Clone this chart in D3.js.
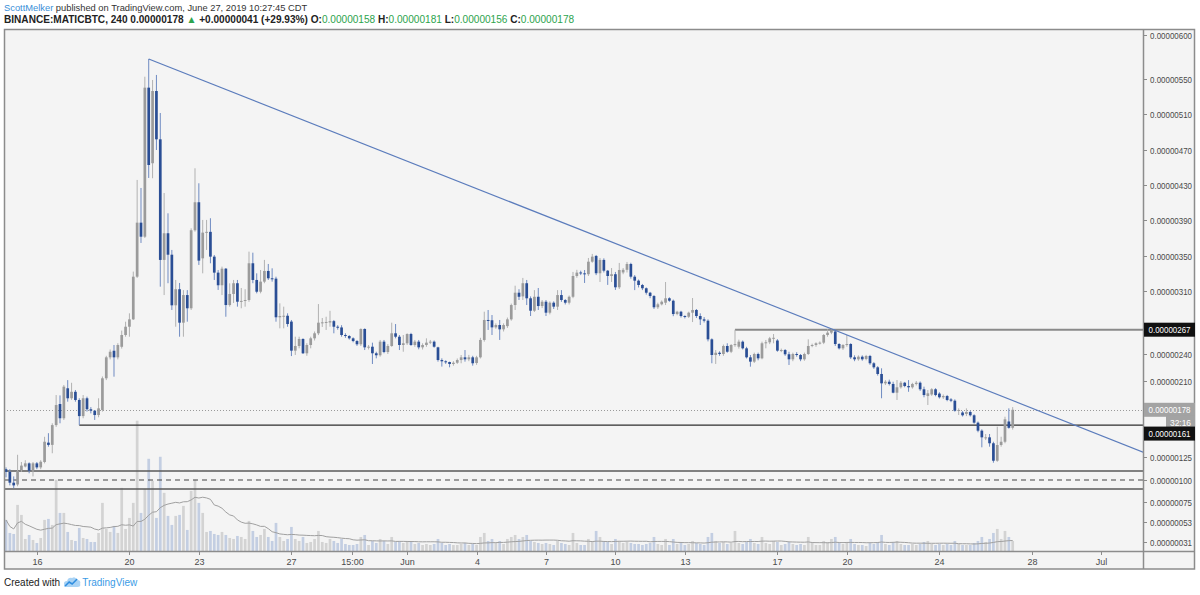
<!DOCTYPE html>
<html><head><meta charset="utf-8">
<script src="https://cdn.jsdelivr.net/npm/d3@7/dist/d3.min.js"></script>
<style>body{margin:0;background:#fff;}svg{display:block;}</style>
</head><body>
<svg id="c" width="1200" height="595"></svg>
<script>
// ---- data (price in satoshi = 1e-8 BTC), 4h candles ----
const opens = [112,109,97,95,111,115,118.5,111,118.5,114,
120,141.5,139,161,184.4,168.6,201.9,190.8,198,188.9,
171,190.8,178.6,177,172.2,177.8,213,236.3,243.6,236.3,
248,261.1,270.3,278.5,326.2,387.4,371.5,540.3,454.7,536.5,
481.8,345.2,375.4,351.1,294.1,312,274.8,305.5,290.8,378.8,
410.5,347,376.1,377,348.9,330.8,316.5,335.3,294.4,306.7,
318.8,298.1,299,300,341.4,322.5,309.2,320.6,332.7,324.4,
324,280.8,282.2,282.5,276,243.7,248.9,256.7,240.8,250,
257.4,263,274.8,275.2,275,276.5,270.3,269.5,261.1,260,
257.4,254.4,250.8,267.8,247.4,248.1,240.8,238.6,253.7,242.2,
248.9,263,259.2,250,251.9,262.2,250,253.7,247.4,250,
252.6,253.7,247.4,233.3,231.9,231.1,228.9,230.3,233.3,236.3,
234.1,236.3,230,236.3,255.6,277.8,277.5,269.6,272.2,267.4,
271,278.5,294.4,308.1,304,318.8,301.9,288.1,303.6,293.3,
298.1,285.9,297,292.6,305.5,300,297,303.6,327,331,
330,329,343.2,349.7,330.1,345.2,333,327,329,314.2,
331,334,340.6,326.2,321.7,316.8,313.1,308.1,304.4,291.9,
295.2,297,301.9,299.2,284.4,287,282.2,281.4,285.9,288.9,
282.2,278.5,277,256.3,238.9,241.4,240,248.9,242.5,250,
248.1,253.7,246.3,236.3,231.5,240,235.2,251.9,253,257.4,
255,243.7,244.4,239.7,234.1,240,238.9,234.1,240,248.9,
250,251.9,252.6,261.1,263.7,265,251.1,246.3,250,251.1,
236.3,234.1,237,234.5,237.8,229.7,225.2,217.8,207.4,209.2,
206.7,197,203,208.1,204.4,203,206.7,208.1,200.8,193.3,
195,200.8,196,191.9,193.3,189.5,188.1,177,175,173.4,
175.6,171.9,163.7,154.8,146.3,147.4,140.8,121.4,138.9,142.5,
165,158];
const highs = [114,112,104,128,120,122,119.6,120,120,122,
148,152,163,194.4,194,205.6,211,208,200,190.8,
194.4,192.6,181,177.8,190.8,215,238,245,250,252,
266,275.9,285.2,332,435.8,426.7,552.7,572.8,549,554.7,
511.6,421,398,356.5,322.5,319.1,311,311,381,449,
432,390.5,390.5,392.4,350.8,333.8,337.6,336,318.7,322.5,
322.5,313.4,312,354.6,353.4,330,333.8,345.2,340.6,335.7,
326.2,296.3,292.6,285.2,277.8,259.2,259.2,257.4,252,259.2,
265,295.5,280,281.4,288,277.8,272,272,263,261,
258.5,255.5,268.5,268.5,250,252.6,242.5,255.6,255.6,251,
274.8,273.3,261.1,261.1,263,263.5,255.6,255.6,251.9,257.4,
255.6,255,248.1,235.2,233,231.5,232,235,238.9,244.4,
239,238,238,258,287,288.9,283.3,274,277.8,274,
280.5,296,316,312,324.8,322.5,304,311,313.4,300,
300,298.5,298.5,311,311,301,305,331.6,334,333,
333.8,347.4,352,350.8,347.4,347,333.8,336,331.6,341.8,
336,342.9,342,328,323,318,314,309,305.5,297,
299.5,320.2,303,300.5,288,288,283,287,302.2,290,
285.2,281,278.5,257.4,244.4,243,250.5,251.9,251,267,
256,255,248,238.9,241.5,241.5,253.7,255.6,259,262.2,
256.5,246,245.5,242.5,241.5,242,240,241.5,256.3,251.5,
253,254,262.2,267.4,267.4,267.4,252,251,261.1,252,
238.5,238.5,238.5,239,239,231,226.5,224.1,211,211.5,
209.2,211.1,210,209,211,208,210,209.5,203.7,200,
202,202,197.5,195,194.5,191,189.6,179.6,176.5,179.6,
177,173,165,156.3,151.1,151.1,142.5,159.2,148.1,170.3,
179.6,181];
const lows = [103,94,91,93,109,114,107.5,104,112,112,
118.5,137,129.7,159,163,166.7,187,189,187,161,
168.6,176,174,166.7,169.7,176,211,234,214.8,234,
246,259.2,259.2,277.8,324.8,364.4,370,438,437.7,469.7,
314.9,305.5,318.8,288.9,270.3,259.2,259.2,275.9,288.9,377.2,
339.5,330,356.5,341.4,322.5,311.2,305.5,281.4,292.6,296.7,
292.6,290.8,292.6,298,318.8,307.4,307.4,318.8,322.5,320.6,
275.9,268.5,268.5,270.3,237.7,238.9,246.3,240,238,246.3,
255,261,270,266.7,270.3,263,267,259.2,258,256,
253,249,248.9,244.4,245,228.9,235.2,237,240.8,240,
248,257.4,244.4,242.5,250,249,248,245.2,245,248,
251,247,231.5,226,229,225.2,227,229,229.7,231.5,
232,227,228,235,253.7,266.7,261.1,268,255.6,265,
269,277,288.9,300,300,294.4,282.2,286.7,288.9,291,
282.2,284,290,288.9,298,295,295,302,325,328,
319.1,327,342,328,320.2,331,316.9,320.2,311.2,312.3,
329,331,324,311,314,311,306,302,290,290,
294,294.4,298,282,283,280.5,279.5,280,275.5,280,
272.2,275,254,229.7,228.9,238,238,241.4,241,248,
246,245,235,225.9,230,233,234.1,246.3,251,251.9,
242.5,242,238,227.8,232,237,232,232.5,238.9,247.5,
248,250.5,251,259.2,262,249,245,244.5,248.1,234.5,
232,232.5,232.5,233,228,223.5,216,190.8,205.5,205,
196.3,188.9,201.5,203,198,201.5,205,199,191.9,183.3,
193.5,193,190.5,190,187.5,186.5,175.9,172.2,170.5,171,
170.5,162.5,153,136.3,144.4,137,119.2,120.2,137,140.8,
157,156];
const closes = [109,97,94,110,116,118.5,110.3,118.5,114,120.3,
142.5,139,161,183.3,168.6,203.7,190.8,198,188.9,171,
190.8,178.6,177,172.2,179.6,213,236.3,242.5,236.3,250,
261.1,270.3,278.5,326.2,387.4,371.5,540.3,452.7,536.5,481.8,
345.2,375.4,351.1,294.1,312,274.8,305.5,290.8,378.8,410.5,
344.4,376.1,377,348.9,330.8,316.5,335.3,294.4,306.7,318.8,
298.1,299,300,341.4,322.5,309.2,320.6,332.7,324.4,324,
280.8,282.2,282.5,273.3,243.7,248.9,256.7,240.8,250,257.4,
263,274.8,275.2,275.6,276.5,270.3,269.5,261.1,260,257.4,
254.4,250.8,267.8,247.4,248.1,240.8,238.6,253.7,242.2,248.9,
263,259.2,250,251.9,262.2,250,253.7,247.4,250,252.6,
253.7,248.1,233.3,231.9,231.1,228.9,230.3,233.3,236.3,234.1,
236.3,229.7,236.3,255.6,277.8,277,269.6,272.2,267.4,272.2,
278.5,294.4,308.1,303.6,318.8,301.9,288.1,303.6,293.3,298.1,
285.9,297,292.6,305.5,300,297,303.6,327,330.8,330,
329,343.2,348.9,330.1,345.2,333,327,329,314.2,333.8,
334,340.6,326.2,321.7,316.8,313.1,308.1,304.4,291.9,295.2,
298.1,301.9,299.2,284.4,287,282.2,281.4,285.9,288.9,282.2,
278.5,277,256.3,238.9,241.4,240,248.9,242.5,250,251,
253.7,246.3,236.3,231.5,240,235.2,251.9,253,257.4,258,
243.7,244.4,239.7,234.1,240,238.9,234.1,240,248.9,250,
251.9,252.6,261.1,263.7,266.7,251.1,246.3,250,251.1,236.3,
234.1,237,234.1,237.8,229.7,225.2,217.8,207.4,209.2,206.7,
197,203,208.1,204.4,203,206.7,208.1,200.8,194.4,196.3,
200.8,194.4,191.9,193.3,188.9,188.1,177,177.8,171.9,175.6,
171.9,163.7,154.8,147.4,147.4,140.8,121.4,138.9,142.5,167.4,
158,178];
const volumes = [31,18,17,46,36,12,16,11,8,13,
31,32,26,71,38,38,19,11,10,23,
13,12,9,9,18,48,22,19,25,18,
63,22,33,48,130,38,62,92,70,33,
94,58,35,26,35,36,45,21,60,71,
48,38,19,20,17,16,19,16,13,12,
15,14,12,30,20,14,16,22,14,10,
28,14,10,12,24,12,10,14,8,9,
12,20,9,8,12,10,8,12,7,6,
6,7,14,16,6,10,8,12,10,7,
14,9,10,8,10,9,7,8,6,7,
6,7,12,8,6,7,6,6,7,8,
6,7,6,14,18,10,12,8,10,7,
12,14,16,12,14,16,10,9,8,7,
8,7,6,10,8,7,6,18,8,6,
6,12,10,20,14,10,9,7,12,10,
8,9,8,7,7,6,7,8,14,7,
6,12,6,12,7,8,6,7,10,8,
7,6,14,18,10,8,9,7,8,20,
8,7,9,12,8,7,14,8,7,10,
9,6,7,9,7,6,7,6,14,8,
6,6,10,9,12,14,8,7,9,12,
7,6,6,5,8,7,9,16,7,6,
9,10,7,6,6,7,6,7,9,10,
7,6,7,6,7,6,10,7,6,6,
6,8,10,14,9,12,18,22,12,20,
14,10];
const priceTicks = [600,550,510,470,430,390,350,310,240,210,125,100,75,53,31];
const timeTickDates = ["2019-05-16T00:00Z","2019-05-20T00:00Z","2019-05-23T00:00Z","2019-05-27T00:00Z","2019-05-29T15:00Z","2019-06-01T00:00Z","2019-06-04T00:00Z","2019-06-07T00:00Z","2019-06-10T00:00Z","2019-06-13T00:00Z","2019-06-17T00:00Z","2019-06-20T00:00Z","2019-06-24T00:00Z","2019-06-28T00:00Z","2019-07-01T00:00Z"];
const timeTickLabels = ["16","20","23","27","15:00","Jun","4","7","10","13","17","20","24","28","Jul"];
const firstCandle = "2019-05-14T16:00Z";
const levelLines = [110, 90];
const dashedLevel = 100;
const support = {from: 19, value: 161};
const resistance = {from: 189, value: 267};
const lastPrice = 178;
const trendStart = {i: 37, v: 572.8};
const trendEnd = {i: 294.8, v: 131};
const countdown = "32:16";

// ---- layout ----
const L = 4, R = 1143, T = 30, B = 551, AX = 1195, TB = 569;
const svg = d3.select("#c");
const font = "'Liberation Sans', Arial, sans-serif";
svg.append("rect").attr("width",1200).attr("height",595).attr("fill","#fff");
svg.append("rect").attr("x",L).attr("y",T).attr("width",AX-L).attr("height",TB-T).attr("fill","#f4f4f4");

const n = closes.length;
const x = d3.scaleLinear().domain([0, n-1]).range([6, 1012.7]);
const y = d3.scaleLinear().domain([21.1, 310, 605.6]).range([B, 291, T]);
const t0 = new Date(firstCandle);
const xt = d3.scaleUtc().domain([t0, new Date(+t0 + (n-1)*4*3600e3)]).range(x.range());
const yv = d3.scaleLinear().domain([0, d3.max(volumes)]).range([B, B-130.3]);

svg.append("clipPath").attr("id","pc").append("rect").attr("x",L).attr("y",T).attr("width",R-L).attr("height",B-T);
const g = svg.append("g").attr("clip-path","url(#pc)");

const idx = d3.range(n);
const up = i => closes[i] >= opens[i];
const bw = 2.7;

// volume
g.append("g").selectAll("rect").data(idx).join("rect")
  .attr("x", i => x(i)-bw/2).attr("width", bw)
  .attr("y", i => yv(volumes[i])).attr("height", i => B - yv(volumes[i]))
  .attr("fill", i => up(i) ? "#d3d3d3" : "#c3cee2");
const ma = idx.map(i => d3.mean(volumes.slice(Math.max(0,i-19), i+1)));
g.append("path").datum(idx)
  .attr("d", d3.line().x(i => x(i)).y(i => yv(ma[i])))
  .attr("fill","none").attr("stroke","#a0a0a0").attr("stroke-width",1);

// level lines
levelLines.forEach(v => g.append("line").attr("x1",L).attr("x2",R).attr("y1",y(v)).attr("y2",y(v))
  .attr("stroke","#5a5a5a").attr("stroke-width",1.4));
g.append("line").attr("x1",L).attr("x2",R).attr("y1",y(dashedLevel)).attr("y2",y(dashedLevel))
  .attr("stroke","#444").attr("stroke-width",1.2).attr("stroke-dasharray","5,4");
g.append("line").attr("x1",L).attr("x2",R).attr("y1",Math.round(y(lastPrice))+0.5).attr("y2",Math.round(y(lastPrice))+0.5)
  .attr("stroke","#9a9a9a").attr("stroke-width",1).attr("stroke-dasharray","1,2");
g.append("line").attr("x1",x(support.from)).attr("x2",R).attr("y1",y(support.value)).attr("y2",y(support.value))
  .attr("stroke","#2e2e2e").attr("stroke-width",1.3);
g.append("line").attr("x1",x(resistance.from)).attr("x2",R).attr("y1",y(resistance.value)).attr("y2",y(resistance.value))
  .attr("stroke","#8a8a8a").attr("stroke-width",2);

// candles
const cg = g.append("g");
cg.selectAll("line").data(idx).join("line")
  .attr("x1", i => x(i)).attr("x2", i => x(i))
  .attr("y1", i => y(highs[i])).attr("y2", i => y(lows[i]))
  .attr("stroke", i => up(i) ? "#b2b2b2" : "#6f8bc2").attr("stroke-width",1);
cg.selectAll("rect").data(idx).join("rect")
  .attr("x", i => x(i)-bw/2).attr("width", bw)
  .attr("y", i => y(Math.max(opens[i],closes[i])))
  .attr("height", i => Math.max(1, Math.abs(y(opens[i]) - y(closes[i]))))
  .attr("fill", i => up(i) ? "#9b9b9b" : "#2a4e95");

// trend line
g.append("line").attr("x1",x(trendStart.i)).attr("y1",y(trendStart.v))
  .attr("x2",x(trendEnd.i)).attr("y2",y(trendEnd.v))
  .attr("stroke","#5b7cbc").attr("stroke-width",1.2);

// frame
const fr = svg.append("g").attr("stroke","#8c8c8c").attr("fill","none");
fr.append("rect").attr("x",L+0.5).attr("y",T-0.5).attr("width",AX-L-1).attr("height",TB-T+0.5).attr("stroke-width",1.5);
fr.append("line").attr("x1",R+0.5).attr("x2",R+0.5).attr("y1",T).attr("y2",TB).attr("stroke-width",1.5);
fr.append("line").attr("x1",L).attr("x2",AX).attr("y1",B+0.5).attr("y2",B+0.5).attr("stroke-width",1.5);

// price axis
const pa = svg.append("g");
priceTicks.forEach(v => {
  const yy = Math.round(y(v)) + 0.5;
  pa.append("line").attr("x1",R).attr("x2",R+4).attr("y1",yy).attr("y2",yy).attr("stroke","#8c8c8c");
  pa.append("text").attr("x",1150).attr("y",yy+3).attr("font-family",font).attr("font-size",9)
    .attr("fill","#4a4a4a").attr("textLength",42).attr("lengthAdjust","spacingAndGlyphs")
    .text((v/1e8).toFixed(8));
});
function priceBox(yc, txt, fill, x0, w, tl) {
  pa.append("rect").attr("x",x0).attr("y",yc-7).attr("width",w).attr("height",14).attr("fill",fill);
  pa.append("text").attr("x",x0+w/2).attr("y",yc+3.2).attr("text-anchor","middle").attr("font-family",font)
    .attr("font-size",9).attr("fill","#fff").attr("textLength",tl).attr("lengthAdjust","spacingAndGlyphs").text(txt);
}
priceBox(y(resistance.value), (resistance.value/1e8).toFixed(8), "#111", R+1, AX-R-1, 42);
priceBox(y(lastPrice), (lastPrice/1e8).toFixed(8), "#a3a3a3", R+1, AX-R-1, 42);
priceBox(y(lastPrice)+13, countdown, "#a3a3a3", 1166, AX-1166, 21);
priceBox(y(support.value)+8.5, (support.value/1e8).toFixed(8), "#111", R+1, AX-R-1, 42);

// time axis
const ta = svg.append("g");
timeTickDates.forEach((d, k) => {
  const xx = Math.round(xt(new Date(d))) + 0.5;
  ta.append("line").attr("x1",xx).attr("x2",xx).attr("y1",B).attr("y2",B+4).attr("stroke","#8c8c8c");
  ta.append("text").attr("x",xx).attr("y",564.5).attr("text-anchor","middle").attr("font-family",font)
    .attr("font-size",9).attr("fill","#4a4a4a").text(timeTickLabels[k]);
});

// header: segments laid out one after another, scaled to the reference width
function runLine(segs, x0, yb, target, size) {
  const tmp = segs.map(s => svg.append("text").attr("font-family",font).attr("font-size",size)
    .attr("font-weight", s.w || "normal").text(s.t));
  const tot = d3.sum(tmp, e => e.node().getComputedTextLength());
  tmp.forEach(e => e.remove());
  const fs = size * target / tot;
  let cx = x0;
  segs.forEach(s => {
    const e = svg.append("text").attr("x",cx).attr("y",yb).attr("font-family",font).attr("font-size",fs)
      .attr("font-weight", s.w || "normal").attr("fill", s.c).attr("xml:space","preserve").text(s.t);
    cx += e.node().getComputedTextLength();
  });
}
const green = "#2da44e";
runLine([
  {t:"ScottMelker", c:"#3a8fd8"},
  {t:" published on TradingView.com, June 27, 2019 10:27:45 CDT", c:"#333"}
], 4, 11, 301, 11);
runLine([
  {t:"BINANCE:MATICBTC, 240 0.00000178 ", c:"#222", w:"bold"},
  {t:"\u25B2", c:green},
  {t:" +0.00000041 (+29.93%) O:", c:"#222", w:"bold"},
  {t:"0.00000158", c:green},
  {t:" H:", c:"#222", w:"bold"},
  {t:"0.00000181", c:green},
  {t:" L:", c:"#222", w:"bold"},
  {t:"0.00000156", c:green},
  {t:" C:", c:"#222", w:"bold"},
  {t:"0.00000178", c:green}
], 4, 23, 557, 11);

// footer
const cw = svg.append("text").attr("x",4).attr("y",586).attr("font-family",font).attr("font-size",10).attr("fill","#222").text("Created with");
const cwEnd = 4 + cw.node().getComputedTextLength();
const lg = svg.append("g").attr("transform",`translate(${cwEnd+3},576)`);
lg.append("path").attr("d","M1,9 Q0,5 4,5 Q5,1 9,2 Q12,0 14,4 Q18,4 17,8 Q18,11 14,11 L3,11 Q0,11 1,9Z").attr("fill","#a9d3f5");
lg.append("path").attr("d","M2,10 L6,6 L9,8 L14,3").attr("fill","none").attr("stroke","#2f8ee0").attr("stroke-width",1.6);
svg.append("text").attr("x",cwEnd+22).attr("y",586).attr("font-family",font).attr("font-size",10).attr("fill","#3a9be6").text("TradingView");
</script>
</body></html>
